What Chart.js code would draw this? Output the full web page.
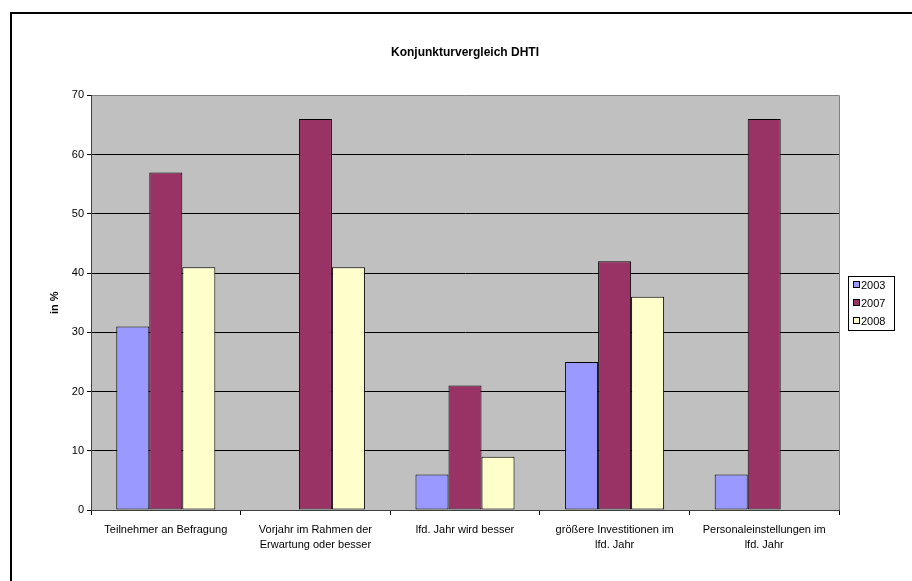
<!DOCTYPE html>
<html>
<head>
<meta charset="utf-8">
<script src="https://cdn.jsdelivr.net/npm/chart.js@4/dist/chart.umd.min.js"></script>
<style>
html,body{margin:0;padding:0;background:#fff;}
canvas{display:block;}
</style>
</head>
<body>
<canvas id="c" width="912" height="581"></canvas>
<script>
const categories = [
  "Teilnehmer an Befragung",
  ["Vorjahr im Rahmen der", "Erwartung oder besser"],
  "lfd. Jahr wird besser",
  ["größere Investitionen im", "lfd. Jahr"],
  ["Personaleinstellungen im", "lfd. Jahr"]
];
const seriesNames = ["2003", "2007", "2008"];
const values2003 = [31, null, 6, 25, 6];
const values2007 = [57, 66, 21, 42, 66];
const values2008 = [41, 41, 9, 36, null];
const seriesColors = ["#9999FF", "#993366", "#FFFFCC"];
const chartTitle = "Konjunkturvergleich DHTI";
const yTitle = "in %";

const FONT = "'Liberation Sans', Arial, sans-serif";

const framePlugin = {
  id: 'frame',
  beforeDraw(chart) {
    const {ctx, chartArea: a} = chart;
    ctx.save();
    ctx.fillStyle = '#fff';
    ctx.fillRect(0, 0, chart.width, chart.height);
    ctx.fillStyle = '#C0C0C0';
    ctx.fillRect(a.left, a.top, a.right - a.left, a.bottom - a.top);
    ctx.restore();
  },
  afterDraw(chart) {
    const {ctx, chartArea: a} = chart;
    ctx.save();
    // outer frame
    ctx.strokeStyle = '#000';
    ctx.lineWidth = 2;
    ctx.beginPath();
    ctx.moveTo(11, chart.height);
    ctx.lineTo(11, 13);
    ctx.lineTo(chart.width, 13);
    ctx.stroke();
    // right plot border
    ctx.strokeStyle = '#808080';
    ctx.lineWidth = 1;
    ctx.beginPath();
    ctx.moveTo(Math.round(a.right) + 0.5, a.top);
    ctx.lineTo(Math.round(a.right) + 0.5, a.bottom);
    ctx.stroke();
    // legend
    const lx = Math.round(a.right) + 9;
    const lw = 46, rowH = 18, lh = seriesNames.length * rowH;
    const ly = Math.round((a.top + a.bottom) / 2 - lh / 2);
    ctx.strokeStyle = '#000';
    ctx.lineWidth = 1;
    ctx.strokeRect(lx + 0.5, ly + 0.5, lw, lh);
    ctx.font = "11px " + FONT;
    ctx.textBaseline = 'middle';
    ctx.textAlign = 'left';
    chart.data.datasets.forEach((ds, i) => {
      const cy = ly + 9 + i * rowH;
      ctx.fillStyle = ds.backgroundColor;
      ctx.fillRect(lx + 5, cy - 4, 7, 7);
      ctx.strokeStyle = '#000';
      ctx.strokeRect(lx + 5.5, cy - 3.5, 6, 6);
      ctx.fillStyle = '#000';
      ctx.fillText(ds.label, lx + 13, cy + 1);
    });
    ctx.restore();
  }
};

new Chart(document.getElementById('c'), {
  type: 'bar',
  data: {
    labels: categories,
    datasets: [
      {label: seriesNames[0], data: values2003, backgroundColor: seriesColors[0]},
      {label: seriesNames[1], data: values2007, backgroundColor: seriesColors[1]},
      {label: seriesNames[2], data: values2008, backgroundColor: seriesColors[2]}
    ].map(d => Object.assign(d, {borderColor: '#000', borderWidth: 1, borderSkipped: false, categoryPercentage: 0.662, barPercentage: 1.0}))
  },
  options: {
    responsive: false,
    animation: false,
    devicePixelRatio: 1,
    layout: {padding: {left: 0, right: 73, top: 0, bottom: 0}},
    plugins: {
      legend: {display: false},
      tooltip: {enabled: false},
      title: {
        display: true,
        text: chartTitle,
        fullSize: false,
        color: '#000',
        font: {family: FONT, size: 12, weight: 'bold'},
        padding: {top: 45, bottom: 36}
      }
    },
    scales: {
      x: {
        afterFit(scale) { scale.height = 71; },
        grid: {display: true, drawOnChartArea: false, drawTicks: true, tickLength: 5, color: '#000', offset: true},
        border: {display: true, color: '#404040', width: 1},
        ticks: {color: '#000', font: {family: FONT, size: 11, lineHeight: 1.38}, padding: 7, maxRotation: 0, autoSkip: false}
      },
      y: {
        min: 0, max: 70,
        afterFit(scale) { scale.width = 91; },
        ticks: {stepSize: 10, color: '#000', font: {family: FONT, size: 11}, padding: 3},
        grid: {
          color: ctx => (ctx.tick && ctx.tick.value === 70) ? '#808080' : '#000',
          tickColor: '#000',
          tickLength: 4,
          lineWidth: 1
        },
        border: {display: true, color: '#404040', width: 1},
        title: {display: true, text: yTitle, color: '#000', font: {family: FONT, size: 11, weight: 'bold'}, padding: {top: 48, bottom: 0}}
      }
    }
  },
  plugins: [framePlugin]
});
</script>
</body>
</html>
